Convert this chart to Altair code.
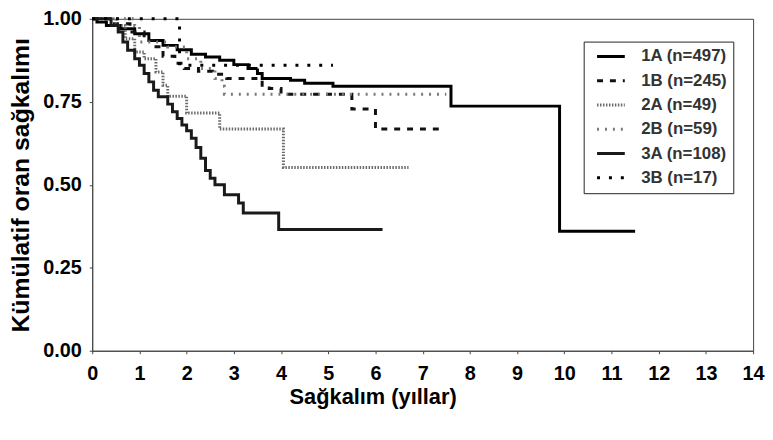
import altair as alt
import pandas as pd

groups = ["1A (n=497)", "1B (n=245)", "2A (n=49)", "2B (n=59)", "3A (n=108)", "3B (n=17)"]

# Kaplan-Meier step points (time in years, cumulative survival)
t_1a = [0, 0.1, 0.3, 0.6, 0.9, 1.2, 1.5, 1.8, 2.1, 2.4, 2.7, 3.0, 3.3, 3.5, 3.6, 4.2, 4.5, 5.1, 7.6, 9.9, 11.5]
s_1a = [1.0, 0.99, 0.98, 0.97, 0.955, 0.935, 0.92, 0.907, 0.893, 0.885, 0.875, 0.862, 0.85, 0.835, 0.82, 0.815, 0.806, 0.797, 0.737, 0.36, 0.36]

t_1b = [0, 0.4, 0.8, 1.1, 1.3, 1.5, 1.75, 1.95, 2.25, 2.55, 2.85, 3.6, 3.75, 4.0, 5.5, 6.0, 7.35]
s_1b = [1.0, 0.985, 0.96, 0.935, 0.916, 0.887, 0.866, 0.85, 0.842, 0.833, 0.82, 0.8, 0.79, 0.773, 0.728, 0.668, 0.668]

t_2a = [0, 0.5, 0.7, 0.9, 1.1, 1.35, 1.5, 1.6, 2.0, 2.7, 4.05, 6.7]
s_2a = [1.0, 0.98, 0.94, 0.9, 0.88, 0.84, 0.8, 0.767, 0.716, 0.668, 0.552, 0.552]

t_2b = [0, 0.9, 1.0, 1.6, 2.0, 2.3, 2.6, 2.75, 2.8, 7.5]
s_2b = [1.0, 0.98, 0.93, 0.915, 0.88, 0.85, 0.82, 0.797, 0.773, 0.773]

t_3a = [0, 0.4, 0.55, 0.65, 0.75, 0.9, 1.0, 1.1, 1.2, 1.3, 1.4, 1.6, 1.7, 1.8, 1.9, 2.0, 2.1, 2.2, 2.3, 2.4, 2.5, 2.6, 2.8, 3.1, 3.2, 3.95, 6.15]
s_3a = [1.0, 0.98, 0.96, 0.93, 0.905, 0.88, 0.86, 0.835, 0.81, 0.785, 0.765, 0.743, 0.72, 0.7, 0.68, 0.663, 0.64, 0.612, 0.58, 0.543, 0.52, 0.5, 0.47, 0.445, 0.415, 0.365, 0.365]

t_3b = [0, 1.85, 5.1]
s_3b = [1.0, 0.86, 0.86]

x_ticks = list(range(0, 15))
y_ticks = [0, 0.25, 0.5, 0.75, 1.0]

colors = ["#000000", "#111111", "#6a6a6a", "#7a7a7a", "#1a1a1a", "#000000"]
widths = [3, 3, 1.6, 1.8, 2.8, 3]
dashes = [[1, 0], [6, 7], [1.5, 1.5], [2, 6], [1, 0], [3, 9]]

series = [(t_1a, s_1a), (t_1b, s_1b), (t_2a, s_2a), (t_2b, s_2b), (t_3a, s_3a), (t_3b, s_3b)]
rows = []
for g, (ts, ss) in zip(groups, series):
    for i, (t, s) in enumerate(zip(ts, ss)):
        rows.append({"group": g, "time": t, "surv": s, "idx": i})
df = pd.DataFrame(rows)

font = "Liberation Sans"

chart = alt.Chart(df).mark_line(interpolate="step-after").encode(
    x=alt.X("time:Q", scale=alt.Scale(domain=[0, 14], nice=False),
            axis=alt.Axis(values=x_ticks, format="d", title="Sağkalım (yıllar)", titleX=283)),
    y=alt.Y("surv:Q", scale=alt.Scale(domain=[0, 1], nice=False),
            axis=alt.Axis(values=y_ticks, format=".2f", title="Kümülatif oran sağkalımı")),
    color=alt.Color("group:N", scale=alt.Scale(domain=groups, range=colors), legend=alt.Legend(title=None)),
    strokeDash=alt.StrokeDash("group:N", scale=alt.Scale(domain=groups, range=dashes), legend=alt.Legend(title=None)),
    strokeWidth=alt.StrokeWidth("group:N", scale=alt.Scale(domain=groups, range=widths), legend=alt.Legend(title=None)),
    order=alt.Order("idx:Q"),
).properties(
    width=667,
    height=335,
    autosize=alt.AutoSizeParams(type="none"),
    padding={"left": 85, "top": 9, "right": 12, "bottom": 70},
).configure_view(
    stroke="#444444", strokeWidth=1
).configure_axis(
    grid=False,
    domainColor="#444444",
    tickColor="#444444",
    tickSize=3,
    labelFont=font,
    labelFontSize=20,
    labelFontWeight="bold",
    labelColor="#000000",
    titleFont=font,
    titleFontWeight="bold",
    titleColor="#000000",
).configure_axisX(
    labelPadding=10,
    titleFontSize=22,
    titlePadding=3,
    labelFlush=False,
).configure_axisY(
    labelPadding=8,
    titleFontSize=25,
    titlePadding=9,
).configure_legend(
    orient="none",
    legendX=496,
    legendY=23,
    strokeColor="#222222",
    fillColor="#ffffff",
    padding=6,
    symbolType="stroke",
    symbolSize=784,
    symbolOffset=6,
    clipHeight=18,
    labelOffset=15,
    labelFont=font,
    labelFontSize=17,
    labelFontWeight="bold",
    labelColor="#333333",
    rowPadding=6.5,
)

chart.save("out.html", embed_options={"renderer": "svg", "actions": False})
